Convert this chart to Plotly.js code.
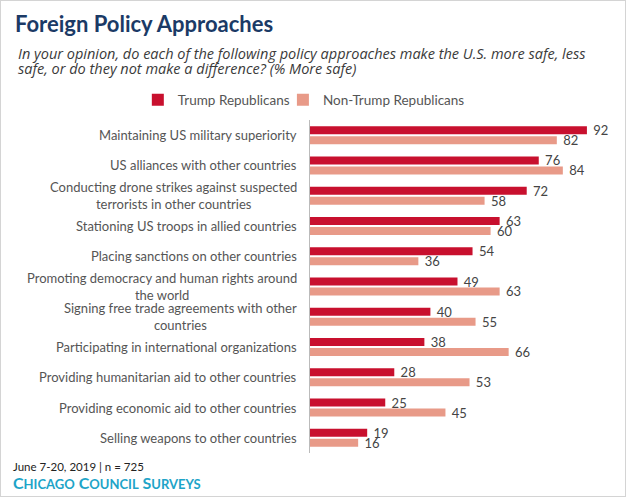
<!DOCTYPE html>
<html>
<head>
<meta charset="utf-8">
<script src="https://cdn.plot.ly/plotly-3.0.1.min.js"></script>
<style>
html,body{margin:0;padding:0;background:#fff;}
#wrap{position:relative;width:626px;height:497px;}
#chart{width:626px;height:497px;}
#border{position:absolute;left:0;top:0;width:626px;height:497px;box-sizing:border-box;border:1px solid #d4d4d4;pointer-events:none;}
</style>
</head>
<body>
<div id="wrap"><div id="chart"></div><div id="border"></div></div>
<script>
const categories = [
  "Maintaining US military superiority",
  "US alliances with other countries",
  "Conducting drone strikes against suspected<br>terrorists in other countries",
  "Stationing US troops in allied countries",
  "Placing sanctions on other countries",
  "Promoting democracy and human rights around<br>the world",
  "Signing free trade agreements with other<br>countries",
  "Participating in international organizations",
  "Providing humanitarian aid to other countries",
  "Providing economic aid to other countries",
  "Selling weapons to other countries"
];
const trumpRepublicans = [92, 76, 72, 63, 54, 49, 40, 38, 28, 25, 19];
const nonTrumpRepublicans = [82, 84, 58, 60, 36, 63, 55, 66, 53, 45, 16];
const seriesNames = ["Trump Republicans", "Non-Trump Republicans"];
const subtitleLines = [
  "In your opinion, do each of the following policy approaches make the U.S. more safe, less",
  "safe, or do they not make a difference? (% More safe)"
];

const FONT = "Lato, 'Open Sans', sans-serif";
const ids = categories.map((c, i) => "c" + i);

const traces = [
  {
    type: "bar", orientation: "h", name: seriesNames[0], legend: "legend",
    y: ids, x: trumpRepublicans,
    marker: {color: "#c8102e"},
    text: trumpRepublicans.map(v => "\u00a0" + v), textposition: "outside",
    textfont: {family: FONT, size: 13, color: "#444"},
    constraintext: "none", cliponaxis: false, hoverinfo: "x"
  },
  {
    type: "bar", orientation: "h", name: seriesNames[1], legend: "legend2",
    y: ids, x: nonTrumpRepublicans,
    marker: {color: "#e89a88"},
    text: nonTrumpRepublicans.map(v => "\u00a0" + v), textposition: "outside",
    textfont: {family: FONT, size: 13, color: "#444"},
    constraintext: "none", cliponaxis: false, hoverinfo: "x"
  }
];

const annotations = categories.map((c, i) => ({
  x: 0, xref: "x", y: ids[i], yref: "y",
  text: c, showarrow: false, xanchor: "right", align: "center",
  xshift: -11,
  font: {family: FONT, size: 13, color: "#555"}
}));

const subY = [1.199, 1.154];
subtitleLines.forEach((t, i) => annotations.push({
  xref: "paper", yref: "paper", x: -0.9767, y: subY[i],
  xanchor: "left", yanchor: "middle", align: "left", showarrow: false,
  text: "<i>" + t + "</i>",
  font: {family: "'Open Sans', sans-serif", size: 14.5, color: "#3a3a3a"}
}));
annotations.push({
  xref: "paper", yref: "paper", x: -0.993, y: -0.042,
  xanchor: "left", yanchor: "middle", align: "left", showarrow: false,
  text: "June 7-20, 2019 | n = 725",
  font: {family: FONT, size: 11.5, color: "#222"}
});
annotations.push({
  xref: "paper", yref: "paper", x: -0.993, y: -0.09,
  xanchor: "left", yanchor: "middle", align: "left", showarrow: false,
  text: "<b>C<span style='font-size:13px'>HICAGO</span> C<span style='font-size:13px'>OUNCIL</span> S<span style='font-size:13px'>URVEYS</span></b>",
  font: {family: FONT, size: 16, color: "#1ea4c8"}
});

const legendBase = {
  orientation: "h", y: 1.06, xanchor: "left", yanchor: "middle",
  font: {family: FONT, size: 13.5, color: "#555"},
  itemwidth: 30, bgcolor: "rgba(0,0,0,0)"
};

const layout = {
  width: 626, height: 497,
  paper_bgcolor: "#fff", plot_bgcolor: "#fff",
  margin: {l: 310, r: 15, t: 120, b: 44},
  title: {
    text: "<b>Foreign Policy Approaches</b>",
    x: 15/626, xanchor: "left", xref: "container",
    y: 1 - 24/497, yanchor: "middle", yref: "container",
    font: {family: FONT, size: 22, color: "#1b3a66"}
  },
  showlegend: true,
  legend: Object.assign({}, legendBase, {x: -0.572}),
  legend2: Object.assign({}, legendBase, {x: -0.09}),
  barmode: "group", bargap: 0.34, bargroupgap: 0.2,
  xaxis: {range: [0, 100], showgrid: false, zeroline: false, showticklabels: false, showline: false, ticks: "", fixedrange: true},
  yaxis: {type: "category", autorange: false, range: [10.5, -0.5], showticklabels: false, showgrid: false, zeroline: false, showline: true, linecolor: "#bbb", linewidth: 1, ticks: "", fixedrange: true},
  annotations: annotations,
  font: {family: FONT}
};

Plotly.newPlot("chart", traces, layout, {displayModeBar: false, staticPlot: true});
</script>
</body>
</html>
